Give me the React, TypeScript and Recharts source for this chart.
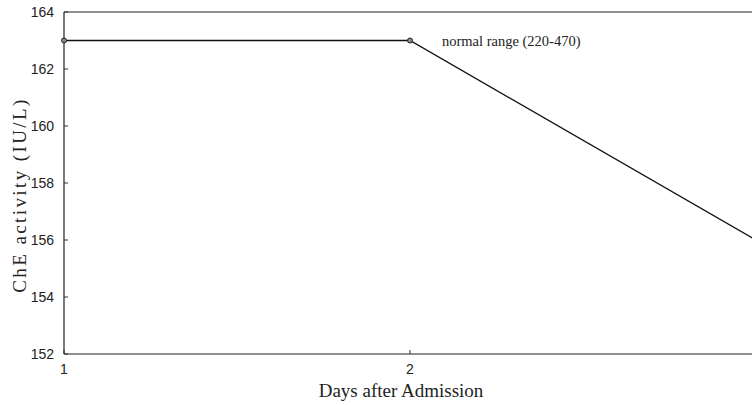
import React from 'react';
import { LineChart, Line, XAxis, YAxis, ReferenceLine, ReferenceDot } from 'recharts';

const days = [1, 2, 3];
const cheActivity = [163, 163, 156];
const yTicks = [152, 154, 156, 158, 160, 162, 164];
const xTicks = [1, 2];
const noteText = 'normal range (220-470)';

const data = days.map((d, i) => ({ day: d, che: cheActivity[i] }));

const sans = '"Liberation Sans Narrow", "Liberation Sans", Arial, sans-serif';
const serif = '"Liberation Serif", "Times New Roman", serif';

const YTick = (props: any) => {
  const { x, y, payload } = props;
  return (
    <g>
      <line x1={x + 10} x2={x + 14} y1={y} y2={y} stroke="#333" />
      <text x={x} y={y} dy={5} textAnchor="end" fontFamily={sans} fontSize={14} fill="#222">
        {payload.value}
      </text>
    </g>
  );
};

const XTick = (props: any) => {
  const { x, y, payload } = props;
  return (
    <g>
      <line x1={x} x2={x} y1={y - 10} y2={y - 14} stroke="#333" />
      <text x={x} y={y} dy={10} textAnchor="middle" fontFamily={sans} fontSize={14} fill="#222">
        {payload.value}
      </text>
    </g>
  );
};

const Dot = (props: any) => {
  const { cx, cy } = props;
  return <circle cx={cx} cy={cy} r={2.5} fill="#888" stroke="#222" strokeWidth={1} />;
};

// axis titles, placed relative to the axis box
const XTitle = (props: any) => {
  const vb = props.viewBox || {};
  return (
    <text x={vb.x + 337} y={vb.y + 43} textAnchor="middle" fontFamily={serif} fontSize={19} fill="#222">
      Days after Admission
    </text>
  );
};

const YTitle = (props: any) => {
  const vb = props.viewBox || {};
  const cx = vb.x + 19;
  const cy = vb.y + vb.height / 2 + 12;
  return (
    <text
      x={cx}
      y={cy}
      transform={`rotate(-90, ${cx}, ${cy})`}
      textAnchor="middle"
      dominantBaseline="central"
      fontFamily={serif}
      fontSize={19}
      letterSpacing={2.4}
      fill="#222"
    >
      ChE activity (IU/L)
    </text>
  );
};

const App = () => {
  return (
    <div style={{ position: 'absolute', left: 0, top: 0, width: 752, height: 405, overflow: 'hidden', background: '#fff' }}>
      <LineChart width={770} height={405} data={data} margin={{ top: 12, right: 14, bottom: 0, left: 0 }}>
        <XAxis
          dataKey="day"
          type="number"
          domain={[1, 3]}
          ticks={xTicks}
          tickLine={false}
          tickSize={0}
          tickMargin={10}
          tick={<XTick />}
          axisLine={{ stroke: '#222', strokeWidth: 1.2 }}
          height={51}
          label={{ content: <XTitle /> }}
        />
        <YAxis
          type="number"
          domain={[152, 164]}
          ticks={yTicks}
          width={64}
          tickLine={false}
          tickSize={0}
          tickMargin={10}
          tick={<YTick />}
          axisLine={{ stroke: '#222', strokeWidth: 1.2 }}
          label={{ content: <YTitle /> }}
        />
        <ReferenceLine y={164} stroke="#222" strokeWidth={1.2} />
        <ReferenceLine x={3} stroke="#222" strokeWidth={1.2} />
        <Line
          dataKey="che"
          stroke="#111"
          strokeWidth={1.3}
          dot={<Dot />}
          activeDot={false}
          isAnimationActive={false}
        />
        <ReferenceDot
          x={2}
          y={163}
          r={0}
          stroke="none"
          label={{
            value: noteText,
            position: 'right',
            offset: 32,
            fill: '#222',
            style: { fontFamily: serif, fontSize: 14.5 },
          }}
        />
      </LineChart>
    </div>
  );
};

export default App;
